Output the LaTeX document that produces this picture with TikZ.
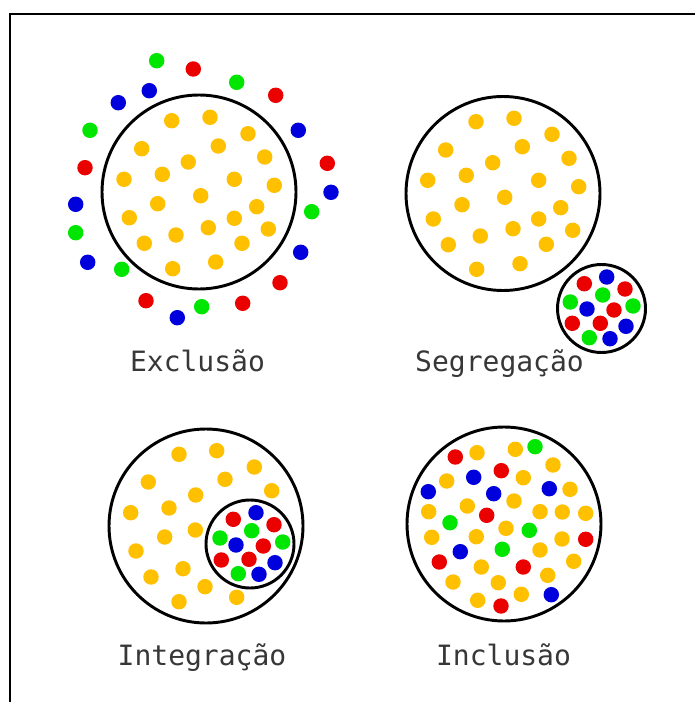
\documentclass[tikz,border=0pt]{standalone}
\usepackage{fontspec}
\newfontfamily\labelfont{DejaVu Sans Mono}
\definecolor{yel}{RGB}{255,192,0}
\definecolor{rd}{RGB}{235,0,0}
\definecolor{gr}{RGB}{0,230,0}
\definecolor{bl}{RGB}{0,0,220}
\definecolor{txt}{RGB}{55,55,55}
\tikzset{
  bigring/.style={circle,draw=black,line width=2.2pt,minimum size=145.5pt,inner sep=0pt,outer sep=0pt},
  smallring/.style={circle,draw=black,line width=2.2pt,minimum size=66pt,inner sep=0pt,outer sep=0pt},
  lbl/.style={font=\labelfont\fontsize{21}{24}\selectfont,text=txt,anchor=base,inner sep=0pt},
}
\newcommand{\dotset}[2]{\foreach \px/\py in {#2} {\fill[#1] (\px,\py) circle (5.8pt);}}
\begin{document}
\begin{tikzpicture}[x=0.75pt,y=-0.75pt]
\useasboundingbox (0,0) rectangle (695,702);
\fill[white] (0,0) rectangle (695,702);
\draw[line width=1.5pt] (10,702) -- (10,14) -- (695,14);
% Exclusao
\node[bigring] (excl) at (199,192) {};
\dotset{yel}{171.7/120.7,210/117.3,248/133.7,141.7/148.7,218.3/146,264.7/157,188.3/162,124/179.3,162.3/174.3,234.3/179.3,274.3/185.3,200.7/195.7,157.7/203.7,256.7/206.7,129.3/217.7,234.3/218.3,208.3/227.7,268.3/229,176/235,144.3/243.3,242/243.3,215.7/262,172.7/268.7}
\dotset{gr}{156.7/60.7,236.7/82.3,90/130.3,311.7/211.7,75.7/232.7,121.7/269.3,201.7/306.7}
\dotset{rd}{193.3/69,275.7/95.3,327.3/163.3,85/167.7,280/282.7,146/300.7,242.7/303.3}
\dotset{bl}{149.3/90.7,118.3/102.7,298.3/130.3,331/192.3,75.7/204.3,300.7/252.3,87.7/262.3,177.3/317.7}
\node[lbl] (lexcl) at (197.5,371) {Exclusão};
% Segregacao
\node[bigring] (segr) at (503,193.5) {};
\node[smallring] (segrs) at (601.5,308.5) {};
\dotset{yel}{476/121.7,514/118.3,552/134.3,445.7/150,522.3/146.7,569/158.3,492.7/162.7,427.7/180.3,466.3/175.3,538.7/180.3,578.7/186.7,504.7/197.3,462/204.7,560.7/207.7,433.3/219,538.7/219,513/228.7,572.7/230.3,480.3/236,448.3/244.7,546.3/244.3,520/263.7,476.7/269.3}
\dotset{rd}{584.3/283.7,625/289,614/310,572.3/323.3,600.3/323.3}
\dotset{bl}{606.7/277,587/309,626/326.3,610/338.7}
\dotset{gr}{570.3/302,602.7/295,633/306,589.3/337.7}
\node[lbl] (lsegr) at (499.5,371) {Segregação};
% Integracao
\node[bigring] (integ) at (206,526) {};
\node[smallring] (integs) at (250,544) {};
\dotset{yel}{179/454.3,216.7/450.7,254.3/467,148.3/482,225/479.3,271.7/490.7,195.7/495,130.7/512.7,169/508,164.7/537,195.3/530,136/551,183/568.7,151/577,205/586.7,179/601.7,236.7/597.3}
\dotset{rd}{233.3/519.3,274/524.7,263.3/546,221.3/560,249/559.3}
\dotset{bl}{256/512.7,236/545,275/562.7,259/574.3}
\dotset{gr}{220/538,251.7/530.7,282.7/542,238.3/573.7}
\node[lbl] (linteg) at (202,665) {Integração};
% Inclusao
\node[bigring] (incl) at (504,524) {};
\dotset{yel}{477/452.7,515.3/449.3,553/465,446.7/481,523.3/477.7,570/489.3,514/501,467.3/506,428.7/511.7,540/511.7,562.3/512,585.7/513.3,506/528.3,431.7/537.3,476.3/536.7,562/539,540/550,481.3/567,573.7/561.3,453/582,498.3/582.7,547.7/575.3,477.7/600.3,521.3/594.3}
\dotset{rd}{455.3/457,501.3/470.7,486.7/515.3,585.7/539.3,439.3/562,523.3/567,501/606}
\dotset{bl}{473.7/477.3,428.3/491.7,493.7/493.7,549.3/488.7,460.3/551.7,551.3/594.7}
\dotset{gr}{535/446.7,450/522.7,529.3/530.3,502.3/549.3}
\node[lbl] (lincl) at (503.5,665) {Inclusão};
\end{tikzpicture}
\end{document}
